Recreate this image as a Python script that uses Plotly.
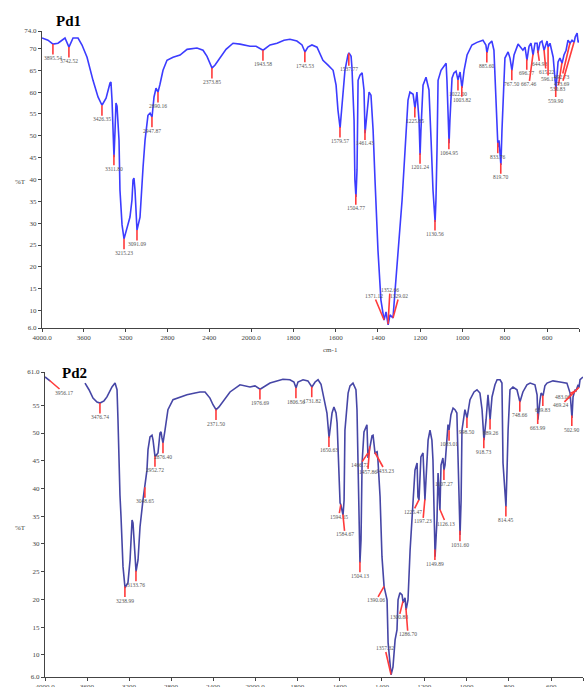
import numpy as np
import plotly.graph_objects as go

W, H = 585, 687

# ---------------- Pd1 spectrum (wavenumber cm-1, %T) ----------------
pd1_wn = [4000, 3943, 3895, 3847, 3780, 3742, 3703, 3655, 3617, 3569,
          3512, 3464, 3426, 3387, 3349, 3340, 3330, 3321, 3311, 3301,
          3292, 3282, 3263, 3254, 3234, 3215, 3187, 3158, 3139, 3129,
          3120, 3110, 3091, 3062, 3033, 3014, 2986, 2966, 2947, 2928,
          2909, 2890, 2871, 2842, 2804, 2746, 2679, 2612, 2517, 2459,
          2421, 2392, 2373, 2344, 2297, 2239, 2172, 2105, 2009, 1976,
          1943, 1910, 1877, 1844, 1816, 1783, 1759, 1745, 1731, 1712,
          1688, 1660, 1636, 1612, 1598, 1589, 1579, 1570, 1556, 1542,
          1537, 1527, 1523, 1513, 1509, 1504, 1499, 1494, 1485, 1475,
          1466, 1461, 1452, 1442, 1433, 1423, 1414, 1400, 1386, 1376,
          1371, 1362, 1352, 1343, 1329, 1319, 1310, 1296, 1286, 1272,
          1267, 1258, 1249, 1234, 1225, 1216, 1206, 1201, 1197, 1187,
          1173, 1159, 1149, 1140, 1130, 1126, 1121, 1116, 1102, 1093,
          1078, 1074, 1069, 1064, 1060, 1050, 1041, 1031, 1022, 1012,
          1003, 993, 979, 956, 932, 904, 890, 885, 876, 862,
          852, 843, 833, 828, 819, 814, 809, 800, 785, 776,
          767, 757, 738, 724, 715, 705, 696, 686, 677, 667,
          658, 648, 644, 634, 625, 615, 606, 601, 596, 587,
          572, 563, 559, 549, 540, 530, 521, 511, 502, 492,
          483, 473, 468, 459, 454, 450]
pd1_t = [72.4, 71.9, 71.0, 71.2, 72.4, 70.3, 72.4, 72.4, 70.8, 68.0,
         62.7, 58.9, 57.0, 58.6, 62.1, 62.3, 58.2, 52.0, 45.1, 51.3,
         57.5, 56.8, 49.0, 37.6, 29.6, 26.4, 28.9, 31.4, 35.3, 39.9,
         40.3, 37.6, 28.4, 31.4, 42.8, 49.0, 54.7, 55.2, 54.3, 58.9,
         60.9, 60.0, 61.8, 65.0, 67.3, 68.0, 68.5, 69.8, 70.1, 69.6,
         68.2, 66.6, 65.5, 66.2, 67.8, 69.8, 71.2, 71.0, 70.5, 70.5,
         69.6, 70.8, 71.2, 71.9, 72.1, 71.7, 70.8, 69.2, 70.3, 70.8,
         70.3, 67.3, 66.2, 65.0, 61.6, 55.9, 51.8, 57.0, 65.0, 68.5,
         69.0, 68.2, 65.7, 53.6, 39.9, 36.0, 42.2, 62.7, 63.9, 64.4,
         60.5, 50.6, 55.9, 60.0, 59.3, 51.3, 39.9, 23.8, 12.4, 9.0,
         7.8, 9.7, 6.7, 9.0, 8.3, 14.7, 20.0, 28.4, 35.3, 46.7,
         50.6, 58.2, 60.0, 59.5, 56.3, 60.0, 53.6, 45.6, 51.3, 61.6,
         63.4, 60.5, 49.0, 37.6, 30.3, 35.3, 46.7, 62.7, 65.0, 65.7,
         66.6, 62.7, 53.6, 48.3, 53.6, 63.2, 64.4, 64.8, 62.8, 64.6,
         61.0, 65.0, 68.5, 70.8, 71.4, 71.9, 70.8, 69.0, 71.0, 71.7,
         69.6, 60.5, 47.4, 49.0, 43.3, 51.3, 58.2, 67.8, 69.2, 67.8,
         65.0, 68.5, 71.0, 70.1, 69.6, 70.3, 67.3, 70.5, 71.2, 68.5,
         71.2, 71.2, 69.0, 71.4, 71.7, 69.6, 71.4, 71.7, 70.3, 71.2,
         68.0, 63.9, 60.5, 66.9, 67.8, 66.6, 68.5, 69.6, 71.9, 71.2,
         71.9, 71.4, 72.6, 73.5, 71.4, 71.9]
pd1_peaks = [3895.54, 3742.52, 3426.35, 3311.80, 3215.23, 3091.09, 2947.87,
             2890.16, 2373.85, 1943.58, 1745.53, 1579.57, 1537.77, 1504.77,
             1461.43, 1371.12, 1352.66, 1329.02, 1225.85, 1201.24, 1130.56,
             1064.95, 1022.00, 1003.82, 885.60, 833.76, 819.70, 767.50,
             696.77, 667.46, 644.98, 615.22, 596.17, 559.90, 530.83, 492.73,
             473.69]

# ---------------- Pd2 spectrum (None = no recorded data) ----------------
pd2_wn = [4000, 3971, 3952, None, 3619, 3581, 3543, 3505, 3476, 3438,
          3410, 3362, 3333, 3314, 3305, 3295, 3286, 3276, 3257, 3238,
          3210, 3190, 3181, 3171, 3162, 3143, 3133, 3114, 3095, 3067,
          3048, 3029, 3019, 3000, 2981, 2971, 2952, 2943, 2924, 2905,
          2895, 2886, 2876, 2857, 2829, 2781, 2714, 2648, 2571, 2524,
          2476, 2429, 2400, 2371, 2343, 2314, 2238, 2143, 2048, 2000,
          1976, 1953, 1929, 1868, 1835, 1816, 1806, 1797, 1773, 1750,
          1740, 1731, 1716, 1702, 1688, 1679, 1669, 1660, 1650, 1641,
          1636, 1627, 1617, 1612, 1608, 1598, 1594, 1584, 1579, 1575,
          1560, 1551, 1537, 1523, 1518, 1513, 1508, 1504, 1499, 1494,
          1485, 1475, 1471, 1466, 1457, 1447, 1442, 1433, 1423, 1419,
          1409, 1400, 1390, 1376, 1371, 1362, 1357, 1348, 1338, 1329,
          1324, 1315, 1305, 1300, 1291, 1286, 1277, 1267, 1253, 1244,
          1234, 1230, 1225, 1216, 1206, 1201, 1197, 1192, 1182, 1173,
          1164, 1159, 1154, 1149, 1140, 1135, 1126, 1121, 1112, 1107,
          1102, 1093, 1088, 1083, 1074, 1064, 1055, 1046, 1036, 1031,
          1026, 1022, 1008, 998, 984, 965, 951, 937, 927, 918,
          908, 899, 889, 880, 866, 856, 842, 833, 828, 818,
          814, 809, 804, 795, 781, 762, 748, 734, 715, 700,
          677, 667, 663, 653, 648, 639, 630, 620, 592, 559,
          526, 511, 502, 497, 488, 483, 473, 469, 464, 450]
pd2_t = [60.1, 59.7, 59.4, None, 59.0, 57.8, 56.3, 55.6, 55.4, 55.8,
         56.5, 58.3, 59.0, 57.8, 52.4, 43.3, 38.8, 34.9, 25.9, 22.1,
         23.0, 27.1, 30.7, 34.3, 33.8, 27.1, 25.0, 27.1, 33.1, 37.9,
         40.3, 43.3, 47.0, 49.3, 49.6, 48.7, 45.7, 45.9, 46.4, 50.0,
         50.2, 49.1, 48.2, 50.5, 54.2, 56.0, 56.5, 56.9, 57.2, 57.4,
         57.4, 56.3, 55.1, 54.2, 54.7, 55.4, 57.4, 58.7, 58.3, 58.5,
         57.9, 58.5, 59.0, 59.7, 59.6, 59.2, 58.1, 59.2, 59.6, 59.4,
         58.8, 58.3, 59.2, 59.6, 58.8, 57.2, 55.4, 53.6, 49.1, 52.4,
         53.6, 54.7, 53.6, 51.8, 47.0, 37.4, 37.0, 35.2, 37.9, 50.5,
         57.2, 58.5, 59.0, 57.8, 54.2, 45.1, 32.5, 26.6, 30.7, 44.6,
         50.2, 51.3, 51.5, 45.5, 47.8, 49.5, 49.6, 46.4, 46.6, 45.1,
         38.5, 27.7, 22.3, 19.9, 12.2, 7.3, 6.4, 7.8, 12.7, 14.5,
         19.9, 21.2, 20.8, 19.4, 20.3, 18.1, 19.9, 28.9, 38.8, 43.3,
         44.6, 38.5, 37.9, 45.7, 46.4, 40.3, 37.9, 41.5, 48.7, 50.5,
         48.7, 45.1, 34.9, 27.7, 34.3, 42.8, 36.1, 44.2, 45.5, 43.3,
         44.2, 48.7, 51.5, 50.5, 53.3, 54.5, 54.2, 53.6, 37.9, 31.6,
         37.9, 50.5, 54.2, 52.7, 56.0, 57.4, 57.8, 57.2, 54.2, 48.7,
         52.4, 56.9, 52.4, 56.5, 58.7, 59.6, 59.6, 59.0, 44.6, 37.9,
         36.7, 43.3, 50.5, 57.8, 58.3, 57.8, 55.6, 57.4, 58.7, 59.0,
         58.7, 56.9, 52.4, 56.0, 57.2, 56.7, 58.5, 59.0, 59.4, 59.2,
         59.0, 57.2, 52.7, 56.5, 57.8, 57.6, 58.7, 58.2, 59.6, 60.1]
pd2_peaks = [3956.17, 3476.74, 3238.99, 3133.76, 3048.65, 2952.72, 2876.40,
             2371.50, 1976.69, 1806.56, 1731.82, 1650.63, 1594.65, 1584.67,
             1504.13, 1466.72, 1457.86, 1433.23, 1390.06, 1357.32, 1300.88,
             1286.70, 1225.47, 1197.23, 1149.89, 1126.13, 1107.27, 1083.01,
             1031.60, 998.50, 918.73, 889.26, 814.45, 748.66, 663.99, 639.83,
             502.90, 483.06, 469.24]

# ---------------- axis ticks ----------------
hi_ticks = [4000, 3600, 3200, 2800, 2400, 2000]
hi_text = ["4000.0", "3600", "3200", "2800", "2400", "2000.0"]
lo_ticks = [1800, 1600, 1400, 1200, 1000, 800, 600, 450]
lo_text = ["1800", "1600", "1400", "1200", "1000", "800", "600", "450.0"]
pd1_yticks = [74, 70, 65, 60, 55, 50, 45, 40, 35, 30, 25, 20, 15, 10, 6]
pd1_ytext = ["74.0", "70", "65", "60", "55", "50", "45", "40", "35", "30",
             "25", "20", "15", "10", "6.0"]
pd2_yticks = [61, 55, 50, 45, 40, 35, 30, 25, 20, 15, 10, 6]
pd2_ytext = ["61.0", "55", "50", "45", "40", "35", "30", "25", "20", "15",
             "10", "6.0"]

# label placement tweaks (pixel offsets of the label from its peak)
pd1_offsets = {1371.12: (-10, -24), 1352.66: (2, -34), 1329.02: (6, -22),
               667.46: (-4, 30), 596.17: (0, 32), 530.83: (-4, 26),
               492.73: (-8, 34), 473.69: (-12, 42), 1537.77: (0, 16),
               644.98: (2, 14), 615.22: (2, 22)}
pd2_offsets = {3956.17: (14, 12), 1390.06: (-8, 14), 1357.32: (-6, -26),
               1300.88: (-4, 16), 1286.70: (2, 26), 1594.65: (-2, 12),
               1584.67: (2, 20), 1466.72: (-8, 12), 1457.86: (-2, 26),
               1433.23: (10, 18), 1225.47: (-6, 12), 1197.23: (-2, 22),
               1126.13: (6, 14), 483.06: (-14, 6), 469.24: (-18, 18)}

SERIF = "Liberation Serif"
TICKFONT = dict(family=SERIF, size=7, color="#444")


def xdom(a, b):
    return [a / W, b / W]


def ydom(top, bottom):
    return [1 - bottom / H, 1 - top / H]


def clean(wn, t):
    pairs = [(a, b) for a, b in zip(wn, t) if a is not None and b is not None]
    arr = np.array(pairs, dtype=float)
    order = np.argsort(arr[:, 0])
    return arr[order, 0], arr[order, 1]


fig = go.Figure()

panels = [
    dict(wn=pd1_wn, t=pd1_t, peaks=pd1_peaks, offs=pd1_offsets,
         xa=("x", "x2"), ya="y", color="#3c3cff"),
    dict(wn=pd2_wn, t=pd2_t, peaks=pd2_peaks, offs=pd2_offsets,
         xa=("x3", "x4"), ya="y2", color="#4646a6"),
]

annotations = []
for p in panels:
    for xa in p["xa"]:
        fig.add_trace(go.Scatter(
            x=p["wn"], y=p["t"], xaxis=xa, yaxis=p["ya"], mode="lines",
            line=dict(color=p["color"], width=1.6), connectgaps=False,
            hoverinfo="skip", showlegend=False))
    xs, ys = clean(p["wn"], p["t"])
    for pk in p["peaks"]:
        yv = float(np.interp(pk, xs, ys))
        ax, ay = p["offs"].get(pk, (0, 14))
        annotations.append(dict(
            x=pk, y=yv, xref=p["xa"][0] if pk >= 2000 else p["xa"][1],
            yref=p["ya"], text=f"{pk:.2f}", showarrow=True, arrowhead=0,
            arrowwidth=1.6, arrowcolor="#ff3b3b", ax=ax, ay=ay,
            standoff=0, startstandoff=0, borderpad=0,
            font=dict(family=SERIF, size=5.5, color="#555")))

axis_common = dict(showline=True, linecolor="#444", linewidth=1,
                   ticks="outside", ticklen=3, tickcolor="#444",
                   tickfont=TICKFONT, showgrid=False, zeroline=False,
                   automargin=False, fixedrange=True)

fig.update_layout(
    width=W, height=H, margin=dict(l=0, r=0, t=0, b=0),
    paper_bgcolor="white", plot_bgcolor="white", showlegend=False,
    xaxis=dict(axis_common, domain=xdom(42, 251), range=[4000, 2000],
               anchor="y", tickvals=hi_ticks, ticktext=hi_text),
    xaxis2=dict(axis_common, domain=xdom(251, 579), range=[2000, 450],
                anchor="y", tickvals=lo_ticks, ticktext=lo_text),
    yaxis=dict(axis_common, domain=ydom(31, 328), range=[6, 74],
               anchor="x", tickvals=pd1_yticks, ticktext=pd1_ytext),
    xaxis3=dict(axis_common, domain=xdom(45, 255), range=[4000, 2000],
                anchor="y2", tickvals=hi_ticks, ticktext=hi_text),
    xaxis4=dict(axis_common, domain=xdom(255, 583), range=[2000, 450],
                anchor="y2", tickvals=lo_ticks, ticktext=lo_text),
    yaxis2=dict(axis_common, domain=ydom(372, 677), range=[6, 61],
                anchor="x3", tickvals=pd2_yticks, ticktext=pd2_ytext),
)

# titles and axis captions
caption = dict(xref="paper", yref="paper", showarrow=False,
               xanchor="center", yanchor="middle")
annotations += [
    dict(caption, x=68 / W, y=1 - 21 / H, text="<b>Pd1</b>",
         font=dict(family=SERIF, size=15, color="black")),
    dict(caption, x=74 / W, y=1 - 373 / H, text="<b>Pd2</b>",
         font=dict(family=SERIF, size=15, color="black")),
    dict(caption, x=20 / W, y=1 - 182 / H, text="%T",
         font=dict(family=SERIF, size=7, color="#444")),
    dict(caption, x=20 / W, y=1 - 528 / H, text="%T",
         font=dict(family=SERIF, size=7, color="#444")),
    dict(caption, x=330 / W, y=1 - 350 / H, text="cm-1",
         font=dict(family=SERIF, size=7, color="#444")),
]
fig.update_layout(annotations=annotations)

fig.write_html("out.html")
